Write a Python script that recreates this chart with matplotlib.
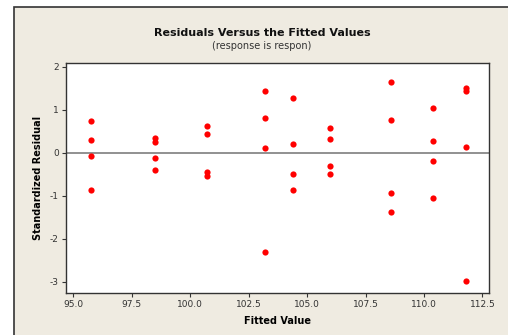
import numpy as np
import matplotlib.pyplot as plt
from matplotlib.patches import Rectangle

plt.rcParams["axes.unicode_minus"] = False

# ====== dados ======
fitted = [95.76] * 4 + [98.47] * 4 + [100.72] * 4 + [103.2] * 4 + \
         [104.39] * 4 + [105.98] * 4 + [108.61] * 4 + [110.38] * 4 + [111.79] * 4
resid = [0.74, 0.30, -0.09, -0.88,
         0.34, 0.25, -0.13, -0.40,
         0.61, 0.44, -0.46, -0.54,
         1.44, 0.81, 0.11, -2.31,
         1.28, 0.20, -0.51, -0.88,
         0.57, 0.31, -0.31, -0.51,
         1.64, 0.76, -0.95, -1.38,
         1.04, 0.27, -0.19, -1.06,
         1.50, 1.44, 0.13, -2.98]
xticks = [95.0, 97.5, 100.0, 102.5, 105.0, 107.5, 110.0, 112.5]
yticks = [-3, -2, -1, 0, 1, 2]

W, H = 508, 335
fig = plt.figure(figsize=(W / 100, H / 100), dpi=100, facecolor="white")

# fundo bege com borda (só topo e esquerda visíveis)
fig.patches.append(Rectangle((14 / W, -0.1), 1.2, 1.1 - 7 / H, transform=fig.transFigure,
                             facecolor="#efebe1", edgecolor="#333333", linewidth=1.2,
                             zorder=-1))

ax = fig.add_axes([65.7 / W, 1 - 292.7 / H, (488.7 - 65.7) / W, (292.7 - 62.7) / H])
ax.set_zorder(1)
ax.set_facecolor("white")
ax.scatter(fitted, resid, s=20, color="#ff0000", zorder=3, linewidths=0)
ax.axhline(0, color="#888888", linewidth=1.3, zorder=2)

ax.set_xlim(94.67, 112.77)
ax.set_ylim(-3.26, 2.09)
ax.set_xticks(xticks)
ax.set_xticklabels([f"{v:.1f}" for v in xticks])
ax.set_yticks(yticks)
ax.tick_params(direction="out", length=3, width=0.8, labelsize=6.5,
               colors="#333333", pad=2)
for s in ax.spines.values():
    s.set_color("#333333")
    s.set_linewidth(1.0)

ax.set_xlabel("Fitted Value", fontsize=7, fontweight="bold", labelpad=5)
ax.set_ylabel("Standardized Residual", fontsize=7, fontweight="bold", labelpad=5)

fig.text(262 / W, 1 - 32.5 / H, "Residuals Versus the Fitted Values",
         ha="center", va="center", fontsize=8, fontweight="bold", color="#111111")
fig.text(262 / W, 1 - 45.7 / H, "(response is respon)",
         ha="center", va="center", fontsize=7, color="#333333")

fig.savefig("out.png", dpi=100, facecolor=fig.get_facecolor())
